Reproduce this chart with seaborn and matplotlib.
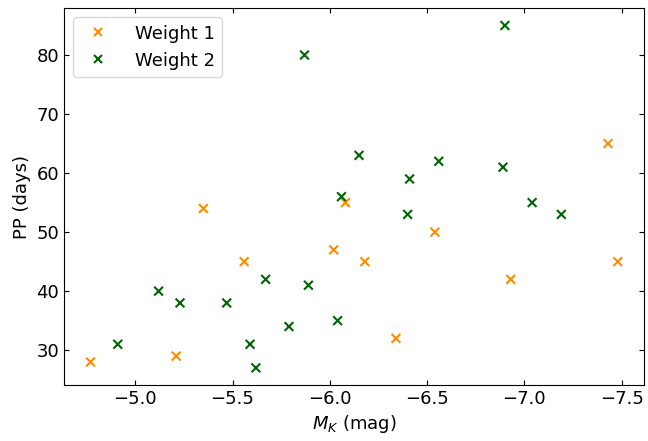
import matplotlib
matplotlib.use("Agg")
import matplotlib.pyplot as plt
import pandas as pd
import seaborn as sns

# Weight 1 (orange)
mk_w1 = [-4.77, -5.21, -5.35, -5.56, -6.02, -6.08, -6.18, -6.34, -6.54, -6.93, -7.43, -7.48]
pp_w1 = [28, 29, 54, 45, 47, 55, 45, 32, 50, 42, 65, 45]

# Weight 2 (green)
mk_w2 = [-4.91, -5.12, -5.23, -5.47, -5.59, -5.62, -5.67, -5.79, -5.87, -5.89,
         -6.04, -6.06, -6.15, -6.40, -6.41, -6.56, -6.89, -6.90, -7.04, -7.19]
pp_w2 = [31, 40, 38, 38, 31, 27, 42, 34, 80, 41,
         35, 56, 63, 53, 59, 62, 61, 85, 55, 53]

df = pd.concat([
    pd.DataFrame({"mk": mk_w1, "pp": pp_w1, "weight": "Weight 1"}),
    pd.DataFrame({"mk": mk_w2, "pp": pp_w2, "weight": "Weight 2"}),
], ignore_index=True)

fig = plt.figure(figsize=(6.48, 4.41), dpi=100)
ax = fig.add_axes([0.099, 0.127, 0.895, 0.854])

sns.scatterplot(data=df, x="mk", y="pp", hue="weight", marker="x", s=40,
                linewidth=1.5, palette={"Weight 1": "darkorange", "Weight 2": "darkgreen"},
                ax=ax)

ax.invert_xaxis()
ax.set_xlabel("$M_K$ (mag)", fontsize=13)
ax.set_ylabel("PP (days)", fontsize=13)
ax.tick_params(direction="in", top=True, right=True, labelsize=13)
ax.legend(loc="upper left", fontsize=13, handletextpad=1.0)

fig.savefig("out.png", dpi=100)
